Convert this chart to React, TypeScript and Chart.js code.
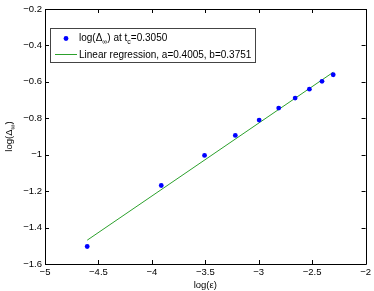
import React, { useEffect, useRef } from "react";
import { Chart, registerables } from "chart.js";

Chart.register(...registerables);

const logEps = [-4.605, -3.912, -3.507, -3.219, -2.996, -2.813, -2.659, -2.526, -2.408, -2.303];
const logDelta = [-1.504, -1.169, -1.004, -0.894, -0.81, -0.744, -0.689, -0.64, -0.597, -0.561];
const slopeA = 0.4005;
const interceptB = 0.3751;
const fitX = [-4.605, -2.303];
const xTicks = [-5, -4.5, -4, -3.5, -3, -2.5, -2];
const yTicks = [-1.6, -1.4, -1.2, -1, -0.8, -0.6, -0.4, -0.2];

const FONT = "Liberation Sans, Arial, Helvetica, sans-serif";
const fmt = (v: number) => {
  const s = String(Number(v.toFixed(2)));
  return s.replace("-", "\u2212");
};

const boxPlugin = {
  id: "matlabBox",
  afterDraw(chart: any) {
    const ctx = chart.ctx;
    const { left, right, top, bottom } = chart.chartArea;
    const xs = chart.scales.x;
    const ys = chart.scales.y;
    ctx.save();
    ctx.strokeStyle = "#000";
    ctx.lineWidth = 1;
    ctx.beginPath();
    ctx.rect(Math.round(left) + 0.5, Math.round(top) + 0.5, Math.round(right - left), Math.round(bottom - top));
    ctx.stroke();
    const tl = 4;
    ctx.beginPath();
    xTicks.forEach((v) => {
      const px = Math.round(xs.getPixelForValue(v)) + 0.5;
      ctx.moveTo(px, bottom);
      ctx.lineTo(px, bottom - tl);
      ctx.moveTo(px, top);
      ctx.lineTo(px, top + tl);
    });
    yTicks.forEach((v) => {
      const py = Math.round(ys.getPixelForValue(v)) + 0.5;
      ctx.moveTo(left, py);
      ctx.lineTo(left + tl, py);
      ctx.moveTo(right, py);
      ctx.lineTo(right - tl, py);
    });
    ctx.stroke();

    // y title
    ctx.fillStyle = "#000";
    ctx.save();
    ctx.translate(12, (top + bottom) / 2);
    ctx.rotate(-Math.PI / 2);
    ctx.textBaseline = "alphabetic";
    const main = "log(\u0394";
    const sub = "\u221E";
    const end = ")";
    ctx.font = `9.5px ${FONT}`;
    const w1 = ctx.measureText(main).width;
    ctx.font = `7px ${FONT}`;
    const w2 = ctx.measureText(sub).width;
    ctx.font = `9.5px ${FONT}`;
    const w3 = ctx.measureText(end).width;
    const tot = w1 + w2 + w3;
    const x0 = -tot / 2;
    ctx.fillText(main, x0, 0);
    ctx.font = `7px ${FONT}`;
    ctx.fillText(sub, x0 + w1, 3);
    ctx.font = `9.5px ${FONT}`;
    ctx.fillText(end, x0 + w1 + w2, 0);
    ctx.restore();

    // legend
    const lx = 50, ly = 28, lw = 205, lh = 34;
    ctx.fillStyle = "#fff";
    ctx.fillRect(lx, ly, lw, lh);
    ctx.strokeStyle = "#444";
    ctx.strokeRect(lx + 0.5, ly + 0.5, lw, lh);
    ctx.fillStyle = "#0000ff";
    ctx.beginPath();
    ctx.arc(66, 38.5, 2.4, 0, Math.PI * 2);
    ctx.fill();
    ctx.strokeStyle = "#2ca02c";
    ctx.beginPath();
    ctx.moveTo(55, 54.5);
    ctx.lineTo(77, 54.5);
    ctx.stroke();
    ctx.fillStyle = "#000";
    const tx = 79;
    let cx = tx;
    const parts: [string, number, number][] = [
      ["log(\u0394", 10, 0],
      ["\u221E", 7, 3],
      [") at t", 10, 0],
      ["c", 7, 3],
      ["=0.3050", 10, 0],
    ];
    parts.forEach(([t, sz, dy]) => {
      ctx.font = `${sz}px ${FONT}`;
      ctx.fillText(t, cx, 40.5 + dy);
      cx += ctx.measureText(t).width;
    });
    ctx.font = `10px ${FONT}`;
    ctx.fillText(`Linear regression, a=${slopeA.toFixed(4)}, b=${interceptB.toFixed(4)}`, tx, 58);
    ctx.restore();
  },
};

export default function App() {
  const ref = useRef<HTMLCanvasElement>(null);
  useEffect(() => {
    document.body.style.margin = "0";
    const fitData = fitX.map((x) => ({ x, y: slopeA * x + interceptB }));
    const chart = new Chart(ref.current!, {
      type: "scatter",
      data: {
        datasets: [
          {
            label: "fit",
            type: "line",
            data: fitData,
            borderColor: "#2ca02c",
            borderWidth: 1,
            pointRadius: 0,
            fill: false,
            order: 2,
          } as any,
          {
            label: "points",
            data: logEps.map((x, i) => ({ x, y: logDelta[i] })),
            backgroundColor: "#0000ff",
            borderColor: "#0000ff",
            pointRadius: 2.4,
            borderWidth: 0,
            order: 1,
          },
        ],
      },
      options: {
        animation: false,
        responsive: false,
        devicePixelRatio: 1,
        layout: { padding: { left: 0, right: 6, top: 9, bottom: 0 } },
        plugins: { legend: { display: false }, tooltip: { enabled: false } },
        scales: {
          x: {
            type: "linear",
            min: -5,
            max: -2,
            afterBuildTicks: (s: any) => { s.ticks = xTicks.map((v) => ({ value: v })); },
            afterFit: (s: any) => { s.height = 27; },
            grid: { display: false, drawTicks: false },
            border: { display: false },
            ticks: { padding: 3, color: "#000", font: { family: FONT, size: 9.5 }, callback: (v: any) => fmt(Number(v)), maxRotation: 0 },
            title: { display: true, text: "log(\u03B5)", color: "#000", font: { family: FONT, size: 9.5 }, padding: { top: 0, bottom: 0 } },
          },
          y: {
            type: "linear",
            min: -1.6,
            max: -0.2,
            afterBuildTicks: (s: any) => { s.ticks = yTicks.map((v) => ({ value: v })); },
            afterFit: (s: any) => { s.width = 45; },
            grid: { display: false, drawTicks: false },
            border: { display: false },
            ticks: { padding: 3, color: "#000", font: { family: FONT, size: 9.5 }, callback: (v: any) => fmt(Number(v)) },
          },
        },
      },
      plugins: [boxPlugin],
    });
    return () => chart.destroy();
  }, []);
  return <canvas ref={ref} width={374} height={291} style={{ display: "block" }} />;
}
